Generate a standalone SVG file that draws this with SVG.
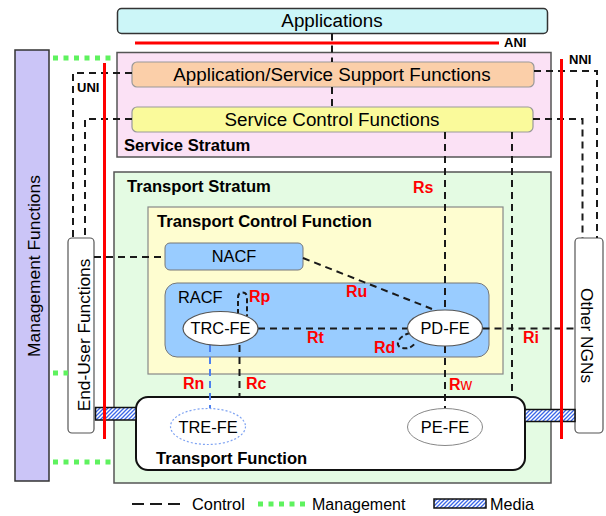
<svg xmlns="http://www.w3.org/2000/svg" width="606" height="516" viewBox="0 0 606 516">
<defs>
<style>
.t{font-family:"Liberation Sans",Arial,sans-serif;fill:#000}
.b{font-weight:bold}
.big{font-size:18.8px}
.nd{font-size:16.4px}
.lb{font-size:16.6px;font-weight:bold}
.r{font-family:"Liberation Sans",Arial,sans-serif;fill:#ff0000;font-weight:bold;font-size:16px}
.if{font-size:13px;font-weight:bold}
.dash{fill:none;stroke:#1a1a1a;stroke-width:2;stroke-dasharray:7 5}
.bdash{fill:none;stroke:#4d80ee;stroke-width:2;stroke-dasharray:7 5}
.red{stroke:#ff0000;stroke-width:3;fill:none}
.green{stroke:#5ef25e;stroke-width:5;stroke-dasharray:5 5.5;fill:none}
.strat{stroke:#555;stroke-width:1.5}
.fe{fill:#fff;stroke:#555;stroke-width:1.2}
.media{fill:url(#hatch);stroke:#111;stroke-width:1.5}
</style>
<pattern id="hatch" patternUnits="userSpaceOnUse" width="4" height="4">
<rect width="4" height="4" fill="#fff"/>
<path d="M-1,1 L1,-1 M0,4 L4,0 M3,5 L5,3" stroke="#3a66e8" stroke-width="1.3"/>
</pattern>
</defs>

<g id="management">
<rect x="15" y="50" width="34" height="431" fill="#cbc5f7" stroke="#333" stroke-width="1.5"/>
<text class="t" font-size="17.4" text-anchor="middle" transform="translate(39.5,266) rotate(-90)">Management Functions</text>
</g>

<g id="service-stratum">
<rect x="117" y="52.5" width="434" height="104.5" fill="#fbe1f5" class="strat"/>
<text class="t lb" x="124" y="150.5">Service Stratum</text>
</g>

<g id="applications">
<rect x="117.5" y="8.5" width="430" height="25" rx="4" fill="#ccf6f8" stroke="#333" stroke-width="1.5"/>
<text class="t big" x="332" y="27" text-anchor="middle">Applications</text>
</g>

<g id="app-service-support">
<rect x="132" y="62" width="402" height="25" rx="5" fill="#fbcfa9" stroke="#999" stroke-width="1.2"/>
<text class="t big" x="332" y="81" text-anchor="middle">Application/Service Support Functions</text>
</g>

<g id="service-control">
<rect x="132" y="107" width="401" height="25" rx="5" fill="#fafa9b" stroke="#999" stroke-width="1.2"/>
<text class="t big" x="332" y="126" text-anchor="middle">Service Control Functions</text>
</g>

<g id="transport-stratum">
<rect x="114" y="172" width="437" height="311" fill="#e4fbe3" class="strat"/>
<text class="t lb" x="127" y="192">Transport Stratum</text>
</g>

<g id="transport-control">
<rect x="148" y="207" width="355" height="167" fill="#fefdd0" stroke="#888" stroke-width="1.2"/>
<text class="t lb" x="157" y="227">Transport Control Function</text>
</g>

<g id="nacf">
<rect x="165" y="243" width="138" height="27" rx="5" fill="#99ccff" stroke="#777" stroke-width="1"/>
<text class="t nd" x="234" y="262" text-anchor="middle">NACF</text>
</g>

<g id="racf">
<rect x="165" y="283" width="324" height="74" rx="12" fill="#99ccff" stroke="#777" stroke-width="1"/>
<text class="t nd" x="178" y="303">RACF</text>
</g>

<g id="transport-function">
<rect x="136" y="397" width="389" height="73" rx="12" fill="#fff" stroke="#111" stroke-width="2"/>
<text class="t lb" x="156" y="464">Transport Function</text>
</g>

<g id="end-user">
<rect x="68" y="238" width="26" height="195" rx="4" fill="#fff" stroke="#555" stroke-width="1.2"/>
<text class="t" font-size="17.3" text-anchor="middle" transform="translate(89.5,335) rotate(-90)">End-User Functions</text>
</g>

<g id="other-ngns">
<rect x="575" y="238" width="28" height="195" rx="4" fill="#fff" stroke="#555" stroke-width="1.2"/>
<text class="t" font-size="17.3" text-anchor="middle" transform="translate(581,335.5) rotate(90)">Other NGNs</text>
</g>

<g id="media">
<rect class="media" x="95.5" y="407.5" width="40.5" height="12.5"/>
<rect class="media" x="525" y="409.5" width="50" height="12"/>
</g>

<g id="connectors">
<path class="dash" d="M332,33.5 V62"/>
<path class="dash" d="M332,87 V107"/>
<path class="dash" d="M132,73 H73 V238"/>
<path class="dash" d="M132,119 H85 V238"/>
<path class="dash" d="M534,71 H597 V238"/>
<path class="dash" d="M533,119 H582.5 V238"/>
<path class="dash" d="M445,132 V310"/>
<path class="dash" d="M445,346 V408"/>
<path class="dash" d="M512,132 V397"/>
<path class="dash" d="M94,257 H165"/>
<path class="dash" d="M303,258 L432,309"/>
<path class="dash" d="M258,328.5 H407.5"/>
<path class="dash" d="M482.5,328.5 H575"/>
<path class="bdash" d="M210,345 V408"/>
<path class="dash" d="M239.5,345 V397"/>
<path class="dash" d="M238,314 V298 Q238,292.5 242.5,292.5 Q247,292.5 247,298 V316" style="stroke-dasharray:5 3"/>
<path class="dash" d="M410,333 C398,336 394,346 402,348 C407,349 412,348 416,342" style="stroke-dasharray:5 3"/>
<path class="green" d="M53,58 H113"/>
<path class="green" d="M53,373 H68"/>
<path class="green" d="M53,462 H114"/>
</g>

<g id="interfaces">
<path class="red" d="M135,43 H499"/>
<path class="red" d="M104.5,63 V439"/>
<path class="red" d="M561.5,59 V439"/>
<text class="t if" x="504" y="47">ANI</text>
<text class="t if" x="77" y="92">UNI</text>
<text class="t if" x="569" y="64">NNI</text>
</g>

<g id="trc-fe">
<ellipse class="fe" cx="220.5" cy="328.5" rx="37.5" ry="17"/>
<text class="t nd" x="220.5" y="333.5" text-anchor="middle">TRC-FE</text>
</g>
<g id="pd-fe">
<ellipse class="fe" cx="445" cy="328" rx="37.5" ry="18"/>
<text class="t nd" x="445" y="333.5" text-anchor="middle">PD-FE</text>
</g>
<g id="tre-fe">
<ellipse cx="208" cy="426.5" rx="37.5" ry="18" fill="#fff" stroke="#7fa3f2" stroke-width="1.2" stroke-dasharray="2 2"/>
<text class="t nd" x="208" y="433" text-anchor="middle">TRE-FE</text>
</g>
<g id="pe-fe">
<ellipse cx="445" cy="427" rx="37.5" ry="18.5" fill="#fff" stroke="#888" stroke-width="1"/>
<text class="t nd" x="445" y="433" text-anchor="middle">PE-FE</text>
</g>

<g id="ref-points">
<text class="r" x="413" y="193">Rs</text>
<text class="r" x="346" y="297">Ru</text>
<text class="r" x="307" y="343">Rt</text>
<text class="r" x="374" y="353">Rd</text>
<text class="r" x="523" y="343">Ri</text>
<text class="r" x="249" y="302">Rp</text>
<text class="r" x="183" y="389">Rn</text>
<text class="r" x="246" y="389">Rc</text>
<text class="r" x="449" y="390">R<tspan font-weight="normal">w</tspan></text>
</g>

<g id="legend">
<path d="M132,504 H180" fill="none" stroke="#1a1a1a" stroke-width="2" stroke-dasharray="12 6"/>
<text class="t" font-size="16.4" x="192" y="510">Control</text>
<path class="green" d="M258,504 H306"/>
<text class="t" font-size="16" x="312" y="510">Management</text>
<rect class="media" x="434" y="499" width="52" height="9"/>
<text class="t" font-size="16.2" x="490" y="510">Media</text>
</g>
</svg>
